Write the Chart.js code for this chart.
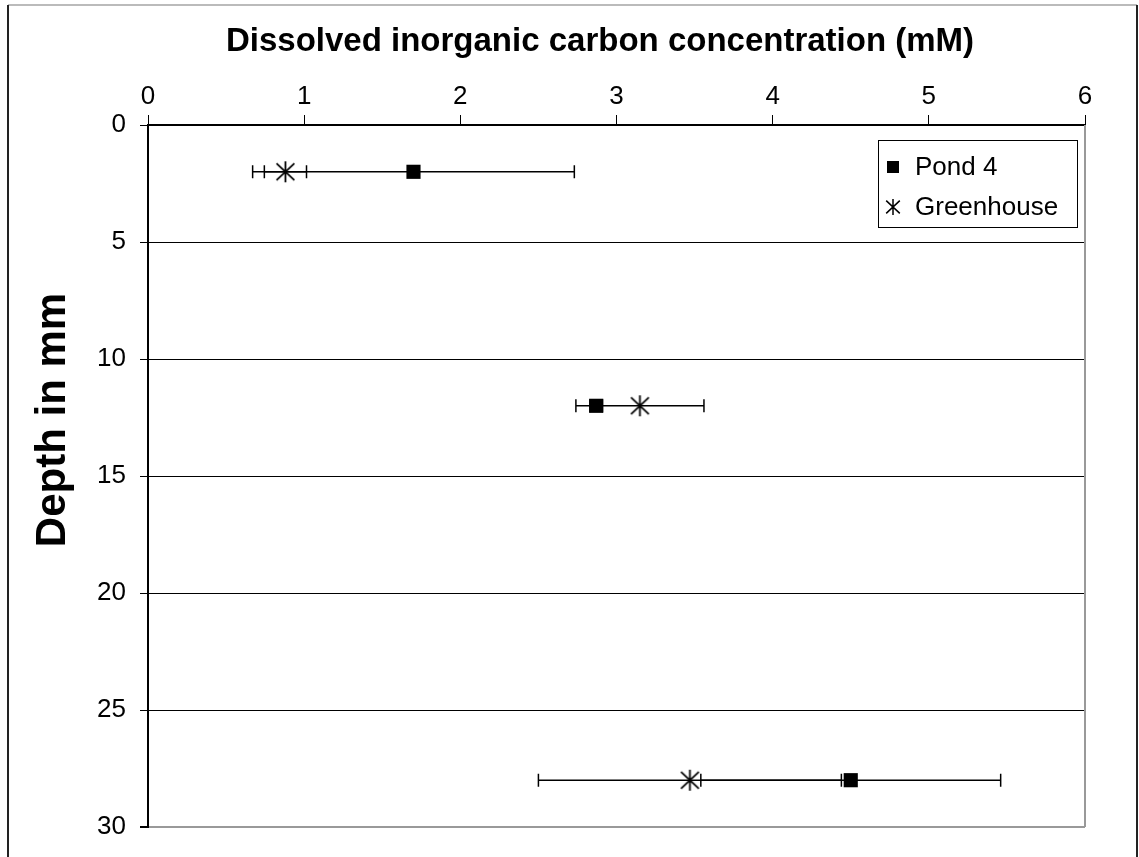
<!DOCTYPE html>
<html lang="en">
<head>
  <meta charset="UTF-8" />
  <title>Dissolved inorganic carbon concentration</title>
  <script src="https://cdn.jsdelivr.net/npm/chart.js"></script>
  <style>
    body { margin: 0; background: #fff; }
    canvas { display: block; }
  </style>
</head>
<body>
  <canvas id="dicChart" width="1139" height="857"></canvas>

  <script>
    // depth (mm) on y, concentration (mM) on x
    const depths = [2, 12, 28];
    const pondValues = [1.70, 2.87, 4.50];
    const pondErrors = [1.03, 0.04, 0.96];
    const greenhouseValues = [0.88, 3.15, 3.47];
    const greenhouseErrors = [0.135, 0.41, 0.97];
    const xTicks = [0, 1, 2, 3, 4, 5, 6];
    const yTicks = [0, 5, 10, 15, 20, 25, 30];
    const xTitle = 'Dissolved inorganic carbon concentration (mM)';
    const yTitle = 'Depth in mm';

    const FONT = 'Arial, "Liberation Sans", sans-serif';

    // Excel style star: an X with a vertical stroke
    function makeStar(size, lw) {
      const c = document.createElement('canvas');
      c.width = size; c.height = size;
      const g = c.getContext('2d');
      const m = size / 2, r = size / 2 - 1;
      g.strokeStyle = '#000';
      g.lineWidth = lw;
      g.beginPath();
      g.moveTo(m, m - r); g.lineTo(m, m + r);
      g.moveTo(m - r * 0.85, m - r * 0.8); g.lineTo(m + r * 0.85, m + r * 0.8);
      g.moveTo(m + r * 0.85, m - r * 0.8); g.lineTo(m - r * 0.85, m + r * 0.8);
      g.stroke();
      return c;
    }
    const starBig = makeStar(23, 1.8);
    const starSmall = makeStar(18, 1.5);

    const errorBars = {
      id: 'errorBars',
      beforeDatasetsDraw(chart) {
        const { ctx, scales: { x, y } } = chart;
        ctx.save();
        ctx.strokeStyle = '#000';
        ctx.lineWidth = 1.5;
        chart.data.datasets.forEach(ds => {
          ds.data.forEach((p, i) => {
            const e = ds.errors[i];
            const yp = y.getPixelForValue(p.y);
            const x0 = x.getPixelForValue(p.x - e);
            const x1 = x.getPixelForValue(p.x + e);
            ctx.beginPath();
            ctx.moveTo(x0, yp); ctx.lineTo(x1, yp);
            ctx.moveTo(x0, yp - 6.5); ctx.lineTo(x0, yp + 6.5);
            ctx.moveTo(x1, yp - 6.5); ctx.lineTo(x1, yp + 6.5);
            ctx.stroke();
          });
        });
        ctx.restore();
      }
    };

    const frame = {
      id: 'frame',
      beforeDraw(chart) {
        const ctx = chart.ctx;
        ctx.save();
        ctx.fillStyle = '#fff';
        ctx.fillRect(0, 0, chart.width, chart.height);
        ctx.strokeStyle = '#bbb';
        ctx.lineWidth = 2;
        ctx.beginPath();
        ctx.moveTo(8, 5); ctx.lineTo(1137, 5);
        ctx.stroke();
        ctx.strokeStyle = '#222';
        ctx.beginPath();
        ctx.moveTo(8, 5); ctx.lineTo(8, chart.height);
        ctx.moveTo(1137, 5); ctx.lineTo(1137, chart.height);
        ctx.stroke();
        ctx.restore();
      },
      afterDraw(chart) {
        const { ctx, chartArea: a } = chart;
        ctx.save();
        // right edge of plot area
        ctx.strokeStyle = '#999';
        ctx.lineWidth = 2;
        ctx.beginPath();
        ctx.moveTo(a.right, a.top); ctx.lineTo(a.right, a.bottom);
        ctx.stroke();

        // axis titles
        ctx.fillStyle = '#000';
        ctx.textAlign = 'center';
        ctx.textBaseline = 'middle';
        ctx.font = 'bold 33px ' + FONT;
        ctx.fillText(xTitle, 600, 42);
        ctx.save();
        ctx.translate(53, 420);
        ctx.rotate(-Math.PI / 2);
        ctx.font = 'bold 42px ' + FONT;
        ctx.fillText(yTitle, 0, 0);
        ctx.restore();

        // legend box
        const bx = a.right - 207, by = a.top + 15, bw = 199, bh = 87;
        ctx.fillStyle = '#fff';
        ctx.fillRect(bx, by, bw, bh);
        ctx.strokeStyle = '#000';
        ctx.lineWidth = 1;
        ctx.strokeRect(bx + 0.5, by + 0.5, bw, bh);
        ctx.font = '26px ' + FONT;
        ctx.fillStyle = '#000';
        ctx.textAlign = 'left';
        chart.data.datasets.forEach((ds, i) => {
          const cy = by + 27 + i * 40;
          if (ds.pointStyle === 'rect') {
            ctx.fillRect(bx + 9, cy - 6, 12, 12);
          } else {
            ctx.drawImage(starSmall, bx + 15 - 9, cy - 9);
          }
          ctx.fillText(ds.label, bx + 37, cy + 1);
        });
        ctx.restore();
      }
    };

    new Chart(document.getElementById('dicChart'), {
      type: 'scatter',
      data: {
        datasets: [
          {
            label: 'Pond 4',
            data: depths.map((d, i) => ({ x: pondValues[i], y: d })),
            errors: pondErrors,
            pointStyle: 'rect',
            pointRadius: 10,
            pointBackgroundColor: '#000',
            pointBorderColor: '#000',
            pointBorderWidth: 0
          },
          {
            label: 'Greenhouse',
            data: depths.map((d, i) => ({ x: greenhouseValues[i], y: d })),
            errors: greenhouseErrors,
            pointStyle: starBig,
            pointRadius: 11
          }
        ]
      },
      options: {
        responsive: false,
        animation: false,
        layout: { padding: { left: 20, top: 10, right: 54, bottom: 30 } },
        plugins: {
          legend: { display: false },
          tooltip: { enabled: false }
        },
        scales: {
          x: {
            type: 'linear',
            position: 'top',
            min: 0,
            max: 6,
            afterBuildTicks: s => { s.ticks = xTicks.map(v => ({ value: v })); },
            afterFit: s => { s.height = 115; },
            ticks: { color: '#000', font: { family: FONT, size: 26 }, padding: 3 },
            grid: { drawOnChartArea: false, drawTicks: true, tickLength: 10, color: '#000', lineWidth: 1 },
            border: { display: true, color: '#000', width: 2 }
          },
          y: {
            type: 'linear',
            reverse: true,
            min: 0,
            max: 30,
            afterBuildTicks: s => { s.ticks = yTicks.map(v => ({ value: v })); },
            afterFit: s => { s.width = 128; },
            ticks: { color: '#000', font: { family: FONT, size: 26 }, padding: 14 },
            grid: {
              color: c => (c.tick && c.tick.value === 30 ? '#999' : '#000'),
              lineWidth: c => (c.tick && c.tick.value === 30 ? 2 : 1),
              drawTicks: true,
              tickLength: 8,
              tickColor: '#000'
            },
            border: { display: true, color: '#000', width: 2 }
          }
        }
      },
      plugins: [frame, errorBars]
    });
  </script>
</body>
</html>
